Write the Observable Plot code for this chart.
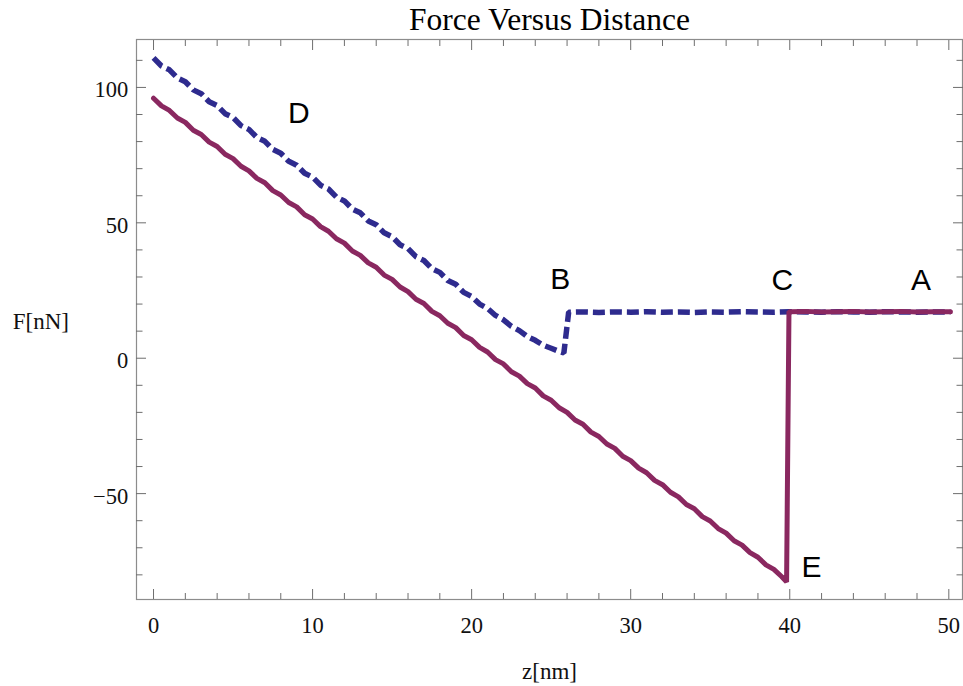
<!DOCTYPE html>
<html>
<head>
<meta charset="utf-8">
<script src="https://cdn.jsdelivr.net/npm/d3@7"></script>
<script src="https://cdn.jsdelivr.net/npm/@observablehq/plot@0.6"></script>
<style>
  html, body { margin: 0; padding: 0; background: #fff; }
  #chart svg { display: block; }
</style>
</head>
<body>
<div id="chart"></div>
<script>
// Approach curve (dashed): tip pressed in from A, jumps to contact at B, loads to D
const approachZ = [
  0, 0.5, 1, 1.5, 2, 2.5, 3, 3.5, 4, 4.5, 5, 5.5, 6, 6.5, 7, 7.5, 8, 8.5, 9, 9.5,
  10, 10.5, 11, 11.5, 12, 12.5, 13, 13.5, 14, 14.5, 15, 15.5, 16, 16.5, 17, 17.5,
  18, 18.5, 19, 19.5, 20, 20.5, 21, 21.5, 22, 22.5, 23, 23.5, 24, 24.5, 25, 25.5,
  25.8, 26.1, 27, 28, 29, 30, 31, 32, 33, 34, 35, 36, 37, 38, 39, 40, 41, 42, 43,
  44, 45, 46, 47, 48, 49, 50.1
];
const approachF = [
  110.9, 107.9, 106.5, 103.5, 102.1, 99.1, 97.7, 94.7, 93.3, 90.3, 88.9, 85.9,
  84.5, 81.5, 80.1, 77.1, 75.7, 72.7, 71.3, 68.3, 66.9, 63.9, 62.5, 59.5, 58.1,
  55.1, 53.7, 50.7, 49.3, 46.3, 44.9, 41.9, 40.5, 37.5, 36.1, 33.1, 31.7, 28.7,
  27.3, 24.3, 22.8, 20.0, 18.4, 15.8, 14.2, 11.8, 10.2, 8.0, 6.6, 4.8, 3.7, 2.5,
  2.0, 17.0, 17.1, 16.9, 17.1, 17.0, 17.2, 17.0, 17.1, 16.9, 17.1, 17.0, 17.2,
  17.1, 17.0, 17.2, 17.1, 17.0, 17.2, 17.1, 17.0, 17.2, 17.1, 17.0, 17.1, 17.1
];

// Retraction curve (solid): unloads from D, pull-off at E, back to C and A
const retractZ = [
  0, 0.5, 1, 1.5, 2, 2.5, 3, 3.5, 4, 4.5, 5, 5.5, 6, 6.5, 7, 7.5, 8, 8.5, 9, 9.5,
  10, 10.5, 11, 11.5, 12, 12.5, 13, 13.5, 14, 14.5, 15, 15.5, 16, 16.5, 17, 17.5,
  18, 18.5, 19, 19.5, 20, 20.5, 21, 21.5, 22, 22.5, 23, 23.5, 24, 24.5, 25, 25.5,
  26, 26.5, 27, 27.5, 28, 28.5, 29, 29.5, 30, 30.5, 31, 31.5, 32, 32.5, 33, 33.5,
  34, 34.5, 35, 35.5, 36, 36.5, 37, 37.5, 38, 38.5, 39, 39.5, 39.8, 39.95, 41, 42,
  43, 44, 45, 46, 47, 48, 49, 50.1
];
const retractF = [
  96.0, 93.2, 91.5, 88.7, 87.1, 84.2, 82.6, 79.8, 78.2, 75.3, 73.7, 70.9, 69.2,
  66.4, 64.8, 61.9, 60.3, 57.5, 55.9, 53.0, 51.4, 48.6, 46.9, 44.1, 42.5, 39.6,
  38.0, 35.2, 33.6, 30.7, 29.1, 26.3, 24.6, 21.8, 20.2, 17.3, 15.7, 12.9, 11.3,
  8.4, 6.8, 4.0, 2.3, -0.5, -2.1, -5.0, -6.6, -9.4, -11.0, -13.9, -15.5, -18.3,
  -20.0, -22.8, -24.4, -27.3, -28.9, -31.7, -33.3, -36.2, -37.8, -40.6, -42.3,
  -45.1, -46.7, -49.5, -51.2, -54.0, -55.6, -58.5, -60.1, -62.9, -64.6, -67.4,
  -69.0, -71.8, -73.5, -76.3, -78.0, -80.7, -82.6, 17.2, 17.3, 17.1, 17.2, 17.3,
  17.1, 17.2, 17.3, 17.1, 17.2, 17.2
];

// Point labels along the cycle
const labelText = ["D", "B", "C", "A", "E"];
const labelZ = [9.13, 25.57, 39.53, 48.25, 41.36];
const labelF = [90.3, 29.2, 28.9, 28.9, -77.2];

// Frame ticks
const zMajor = [0, 10, 20, 30, 40, 50];
const zMinor = [2, 4, 6, 8, 12, 14, 16, 18, 22, 24, 26, 28, 32, 34, 36, 38, 42, 44, 46, 48];
const fMajor = [-50, 0, 50, 100];
const fMinor = [-80, -70, -60, -40, -30, -20, -10, 10, 20, 30, 40, 60, 70, 80, 90, 110];

const approach = approachZ.map((z, i) => ({z, F: approachF[i]}));
const retract = retractZ.map((z, i) => ({z, F: retractF[i]}));
const labels = labelText.map((t, i) => ({t, z: labelZ[i], F: labelF[i]}));

const serif = "'Liberation Serif', 'Times New Roman', serif";
const sans = "'Liberation Sans', Arial, Helvetica, sans-serif";
const frameColor = "#8c8c8c";
const tickColor = "#6e6e6e";
const blank = () => "";
const minus = d => String(d).replace("-", "\u2212");

const chart = Plot.plot({
  width: 963,
  height: 686,
  marginLeft: 136,
  marginRight: 1,
  marginTop: 39,
  marginBottom: 87,
  style: {fontFamily: serif, background: "#fff", overflow: "visible"},
  x: {domain: [-1.07, 50.86]},
  y: {domain: [-89.1, 117.7]},
  marks: [
    Plot.frame({stroke: frameColor, strokeWidth: 1.2}),

    // ticks pointing inward on all four sides
    Plot.axisX(zMajor, {anchor: "bottom", tickSize: -10, tickFormat: blank, stroke: tickColor, label: null}),
    Plot.axisX(zMinor, {anchor: "bottom", tickSize: -6, tickFormat: blank, stroke: tickColor, label: null}),
    Plot.axisX(zMajor, {anchor: "top", tickSize: -10, tickFormat: blank, stroke: tickColor, label: null}),
    Plot.axisX(zMinor, {anchor: "top", tickSize: -6, tickFormat: blank, stroke: tickColor, label: null}),
    Plot.axisY(fMajor, {anchor: "left", tickSize: -10, tickFormat: blank, stroke: tickColor, label: null}),
    Plot.axisY(fMinor, {anchor: "left", tickSize: -6.5, tickFormat: blank, stroke: tickColor, label: null}),
    Plot.axisY(fMajor, {anchor: "right", tickSize: -10, tickFormat: blank, stroke: tickColor, label: null}),
    Plot.axisY(fMinor, {anchor: "right", tickSize: -6.5, tickFormat: blank, stroke: tickColor, label: null}),

    // tick labels
    Plot.axisX(zMajor, {anchor: "bottom", tickSize: 0, tickPadding: 18, fontSize: 22.5, fontFamily: serif, fill: "#111", label: null}),
    Plot.axisY(fMajor, {anchor: "left", tickSize: 0, tickPadding: 8.3, dy: 2.8, tickFormat: minus, fontSize: 22.5, fontFamily: serif, fill: "#111", label: null}),

    // curves
    Plot.line(approach, {x: "z", y: "F", stroke: "#2e2b8e", strokeWidth: 5.5, strokeDasharray: "12,5", strokeLinecap: "butt", strokeLinejoin: "miter"}),
    Plot.line(retract, {x: "z", y: "F", stroke: "#8a2860", strokeWidth: 5, strokeLinejoin: "miter"}),

    // point labels
    Plot.text(labels, {x: "z", y: "F", text: "t", fontFamily: sans, fontSize: 30, fill: "#000", lineAnchor: "middle"}),

    // title and axis labels
    Plot.text(["Force Versus Distance"], {frameAnchor: "top", lineAnchor: "bottom", dy: -9.7, fontSize: 31.5, fontFamily: serif, fill: "#000"}),
    Plot.text(["z[nm]"], {frameAnchor: "bottom", lineAnchor: "bottom", dy: 79.5, fontSize: 23, fontFamily: serif, fill: "#111"}),
    Plot.text(["F[nN]"], {frameAnchor: "left", textAnchor: "start", lineAnchor: "bottom", dx: -123.7, dy: 9.3, fontSize: 23, fontFamily: serif, fill: "#111"})
  ]
});

document.getElementById("chart").append(chart);
</script>
</body>
</html>
